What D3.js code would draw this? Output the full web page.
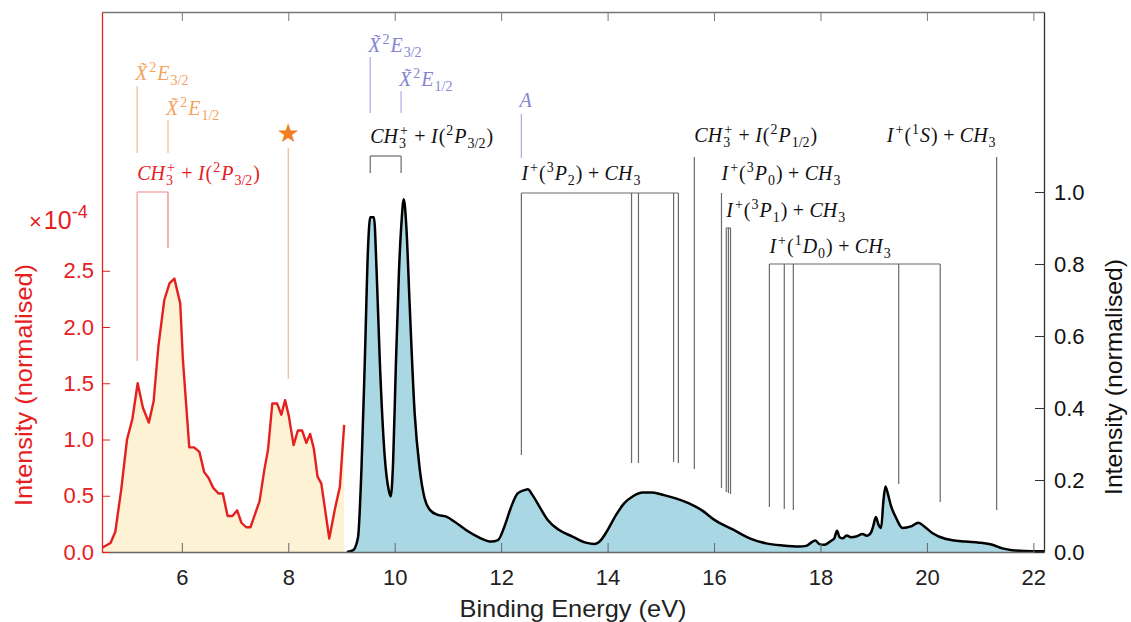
<!DOCTYPE html>
<html><head><meta charset="utf-8">
<script src="https://cdn.jsdelivr.net/npm/d3@7"></script>
<style>
html,body{margin:0;padding:0;background:#fff;}
svg{display:block;}
</style></head>
<body>
<svg id="chart" width="1131" height="622"></svg>
<script>
// ---------- DATA ----------
// Red trace (left axis, x1e-4)
const redEnergy = [4.51,4.66,4.75,4.86,4.97,5.07,5.17,5.27,5.38,5.47,5.56,5.67,5.77,5.86,5.97,6.02,6.14,6.23,6.33,6.42,6.50,6.59,6.69,6.77,6.86,6.95,7.04,7.12,7.21,7.29,7.37,7.46,7.55,7.62,7.70,7.79,7.87,7.94,8.01,8.10,8.18,8.26,8.34,8.41,8.48,8.55,8.62,8.70,8.77,8.88,8.97,9.05];
const redIntensity = [0.04,0.08,0.18,0.55,1.00,1.18,1.50,1.28,1.15,1.34,1.83,2.24,2.39,2.43,2.21,1.71,0.93,0.93,0.89,0.71,0.66,0.57,0.52,0.52,0.32,0.32,0.37,0.26,0.22,0.22,0.33,0.45,0.73,0.91,1.32,1.32,1.22,1.35,1.21,0.95,1.08,1.08,0.97,1.05,0.92,0.67,0.61,0.35,0.12,0.39,0.58,1.13];
// Black trace (right axis)
const blueEnergy = [9.10,9.22,9.31,9.375,9.44,9.50,9.54,9.61,9.66,9.72,9.81,9.89,9.925,9.97,10.02,10.08,10.125,10.17,10.22,10.28,10.375,10.47,10.56,10.66,10.81,10.97,11.125,11.34,11.59,11.81,11.94,12.06,12.19,12.31,12.44,12.50,12.59,12.72,12.875,13.09,13.34,13.59,13.75,13.875,14.0,14.16,14.31,14.47,14.66,14.84,15.06,15.28,15.53,15.78,16.0,16.36,16.67,16.98,17.29,17.6,17.73,17.825,17.9,17.98,18.075,18.2,18.26,18.31,18.36,18.42,18.49,18.575,18.67,18.79,18.87,18.95,18.99,19.04,19.09,19.14,19.18,19.22,19.26,19.325,19.42,19.54,19.7,19.84,19.95,20.1,20.36,20.73,20.98,21.23,21.42,21.6,21.98,22.2];
const blueIntensity = [0,0.005,0.04,0.23,0.54,0.85,0.93,0.93,0.78,0.53,0.27,0.17,0.154,0.25,0.51,0.78,0.91,0.98,0.90,0.69,0.385,0.23,0.15,0.117,0.103,0.098,0.084,0.061,0.040,0.029,0.033,0.07,0.126,0.163,0.172,0.174,0.158,0.126,0.089,0.061,0.043,0.026,0.022,0.033,0.061,0.103,0.135,0.154,0.165,0.165,0.158,0.149,0.135,0.115,0.09,0.062,0.038,0.024,0.018,0.015,0.017,0.026,0.032,0.022,0.020,0.031,0.038,0.059,0.041,0.038,0.046,0.041,0.043,0.050,0.045,0.054,0.071,0.097,0.076,0.067,0.137,0.182,0.165,0.128,0.095,0.067,0.071,0.081,0.071,0.053,0.036,0.029,0.026,0.020,0.010,0.005,0.002,0.002];
// Axis ticks
const xTicks = [6,8,10,12,14,16,18,20,22];
const leftTicks = [0,0.5,1.0,1.5,2.0,2.5];
const rightTicks = [0,0.2,0.4,0.6,0.8,1.0];
// Annotation energies (eV)
const orangeStates = [5.16, 5.74];
const orangeLabels = ["X̃^2E_{3/2}", "X̃^2E_{1/2}"];
const starEnergy = 8.0;
const redBracket = [5.16, 5.74];
const redBracketLabel = "CH_3^+ + I(^2P_{3/2})";
const purpleStates = [9.54, 10.12, 12.38];
const purpleLabels = ["X̃^2E_{3/2}", "X̃^2E_{1/2}", "A"];
const groupLabels = ["CH_3^+ + I(^2P_{3/2})","I^+(^3P_2) + CH_3","CH_3^+ + I(^2P_{1/2})","I^+(^3P_0) + CH_3","I^+(^3P_1) + CH_3","I^+(^1D_0) + CH_3","I^+(^1S) + CH_3"];
const groupEnergies = [[9.54,10.12],[12.38,14.45,14.58,15.24,15.33],[15.63],[16.14],[16.23,16.27,16.31],[17.04,17.32,17.49,19.47,20.25],[21.31]];

// ---------- LAYOUT ----------
const L = {left:102, right:1044, top:12, bottom:552};
const groupLayout = [
  {labelY:143, top:156, bottoms:[173,173]},
  {labelY:180, top:193, bottoms:[455,463,463,462,463]},
  {labelY:142, top:157, bottoms:[469]},
  {labelY:180, top:193, bottoms:[488]},
  {labelY:217, top:228, bottoms:[492,493,494]},
  {labelY:253, top:264, bottoms:[507,509,510,484,502]},
  {labelY:142, top:157, bottoms:[510], anchorEnd:true}
];
const orangeLayout = [{labelY:80, top:86, bottom:153},{labelY:115, top:120, bottom:153}];
const purpleLayout = [{labelY:52, top:57, bottom:113},{labelY:86, top:91, bottom:113},{labelY:107, top:114, bottom:158}];
const MATH_FS = 20;

const C = {
  red:"#e5201f", redLight:"#f29c97", orange:"#f4a35e", orangeLine:"#f7b888", star:"#f27c22",
  purple:"#8585d2", purpleLine:"#a9a9e2", gray:"#6a6a6a", yellow:"#fdf2d4", blue:"#a9d7e4"
};

const svg = d3.select("#chart");
const x = d3.scaleLinear().domain([4.5,22.2]).range([L.left,L.right]);
const yL = d3.scaleLinear().domain([0,4.8]).range([L.bottom,L.top]);
const yR = d3.scaleLinear().domain([0,1.5]).range([L.bottom,L.top]);

svg.append("defs").append("clipPath").attr("id","clip").append("rect")
  .attr("x",L.left).attr("y",L.top).attr("width",L.right-L.left).attr("height",L.bottom-L.top);
const plot = svg.append("g").attr("clip-path","url(#clip)");

const redData = redEnergy.map((e,i)=>[e,redIntensity[i]]);
const blueData = blueEnergy.map((e,i)=>[e,blueIntensity[i]]);

plot.append("path").datum(redData).attr("fill",C.yellow)
  .attr("d", d3.area().x(d=>x(d[0])).y0(yL(0)).y1(d=>yL(d[1])));
plot.append("path").datum(blueData).attr("fill",C.blue)
  .attr("d", d3.area().x(d=>x(d[0])).y0(yR(0)).y1(d=>yR(d[1])).curve(d3.curveMonotoneX));
plot.append("path").datum(redData).attr("fill","none").attr("stroke",C.red).attr("stroke-width",2.4)
  .attr("stroke-linejoin","round").attr("d", d3.line().x(d=>x(d[0])).y(d=>yL(d[1])));
plot.append("path").datum(blueData).attr("fill","none").attr("stroke","#000").attr("stroke-width",2.5)
  .attr("stroke-linejoin","round").attr("d", d3.line().x(d=>x(d[0])).y(d=>yR(d[1])).curve(d3.curveMonotoneX));

// ---------- math label renderer ----------
const SERIF = "'Liberation Serif','DejaVu Serif',serif";
function parseMath(src){
  const toks=[]; let i=0;
  function readArg(){
    if(src[i]==="{"){ const j=src.indexOf("}",i); const s=src.slice(i+1,j); i=j+1; return s; }
    let s=src[i]; i++;
    return s;
  }
  while(i<src.length){
    const c=src[i];
    if(c==="^"||c==="_"){
      i++; const a=readArg();
      let last=toks[toks.length-1];
      const key = c==="^"?"sup":"sub";
      if(!last||last.type!=="script"||last[key]!==undefined){ last={type:"script"}; toks.push(last); }
      last[key]=a;
    } else {
      let last=toks[toks.length-1];
      if(!last||last.type!=="base"){ last={type:"base",text:""}; toks.push(last); }
      last.text+=c; i++;
    }
  }
  return toks;
}
function drawRun(g, text, x0, y0, fs, color){
  let xx=x0;
  const re=/([A-Za-z]\u0303?)+|[ ]+|[^A-Za-z ]+/g; let m;
  while((m=re.exec(text))){
    const s=m[0];
    if(/^ +$/.test(s)){ xx+=fs*0.27*s.length; continue; }
    const it=/[A-Za-z]/.test(s[0]);
    const t=g.append("text").attr("x",xx).attr("y",y0).attr("fill",color)
      .style("font-family",SERIF).style("font-size",fs+"px")
      .style("font-style",it?"italic":"normal").text(s);
    xx+=t.node().getComputedTextLength()+(it?fs*0.05:0);
  }
  return xx-x0;
}
function drawScript(g, tok, x0, y0, fs, color){
  const sfs=fs*0.7;
  const t=g.append("text").attr("fill",color).style("font-family",SERIF).style("font-size",sfs+"px");
  let w=0;
  if(tok.sub!==undefined){
    const s=t.append("tspan").attr("x",x0).attr("y",y0+fs*0.25).text(tok.sub);
    w=Math.max(w,s.node().getComputedTextLength());
  }
  if(tok.sup!==undefined){
    const s=t.append("tspan").attr("x",x0+1).attr("y",y0-fs*0.42).text(tok.sup);
    w=Math.max(w,s.node().getComputedTextLength()+1);
  }
  return w+1;
}
function mathLabel(g, x0, y0, src, color, fs, anchorEnd){
  fs=fs||MATH_FS;
  const lg=g.append("g");
  let xx=x0;
  parseMath(src).forEach(tok=>{
    if(tok.type==="base") xx+=drawRun(lg,tok.text,xx,y0,fs,color);
    else xx+=drawScript(lg,tok,xx,y0,fs,color);
  });
  if(anchorEnd){ lg.attr("transform",`translate(${-(xx-x0)},0)`); }
}
function vline(g,xp,y1,y2,color,w){ g.append("line").attr("x1",xp).attr("x2",xp).attr("y1",y1).attr("y2",y2).attr("stroke",color).attr("stroke-width",w||1.2); }
function hline(g,x1,x2,yp,color,w){ g.append("line").attr("x1",x1).attr("x2",x2).attr("y1",yp).attr("y2",yp).attr("stroke",color).attr("stroke-width",w||1.2); }

const ann = svg.append("g");
// orange
orangeStates.forEach((e,i)=>{
  const lo=orangeLayout[i];
  vline(ann,x(e),lo.top,lo.bottom,C.orangeLine);
  mathLabel(ann,x(e)-2,lo.labelY,orangeLabels[i],C.orange);
});
// red bracket
hline(ann,x(redBracket[0]),x(redBracket[1]),192,C.redLight);
vline(ann,x(redBracket[0]),192,361,C.redLight);
vline(ann,x(redBracket[1]),192,248,"#ef7e78");
mathLabel(ann,x(redBracket[0]),180,redBracketLabel,C.red);
// star
vline(ann,x(starEnergy),148,379,C.orangeLine);
ann.append("text").attr("x",x(starEnergy)).attr("y",142).attr("text-anchor","middle")
  .attr("fill",C.star).style("font-family","'DejaVu Sans'").style("font-size","26px").text("★");
// purple
purpleStates.forEach((e,i)=>{
  const lo=purpleLayout[i];
  vline(ann,x(e),lo.top,lo.bottom,C.purpleLine);
  mathLabel(ann,x(e)-2,lo.labelY,purpleLabels[i],C.purple);
});
// black groups
groupEnergies.forEach((es,gi)=>{
  const lo=groupLayout[gi];
  if(es.length>1) hline(ann,x(es[0]),x(es[es.length-1]),lo.top,C.gray);
  es.forEach((e,k)=>vline(ann,x(e),lo.top,lo.bottoms[k],C.gray));
  mathLabel(ann,x(es[0]),lo.labelY,groupLabels[gi],"#111",MATH_FS,lo.anchorEnd);
});

// ---------- axes ----------
const font="'Liberation Sans',Arial,Helvetica,sans-serif";
function styleAxis(g,color,lineColor,fs){
  g.selectAll("text").style("font-family",font).style("font-size",(fs||21)+"px").attr("fill",color);
  g.selectAll(".tick line").attr("stroke",lineColor);
  g.select(".domain").attr("stroke",lineColor).attr("stroke-width",1.3);
}
const gb = svg.append("g").attr("transform",`translate(0,${L.bottom})`)
  .call(d3.axisBottom(x).tickValues(xTicks).tickSize(-9).tickSizeOuter(0).tickPadding(17).tickFormat(d3.format("d")));
styleAxis(gb,"#222","#666",22);
const gt = svg.append("g").attr("transform",`translate(0,${L.top})`)
  .call(d3.axisTop(x).tickValues(xTicks).tickSize(-9).tickSizeOuter(0).tickFormat(""));
styleAxis(gt,"#222","#777");
const gl = svg.append("g").attr("transform",`translate(${L.left},0)`)
  .call(d3.axisLeft(yL).tickValues(leftTicks).tickSize(-8).tickSizeOuter(0).tickPadding(8).tickFormat(d3.format(".1f")));
styleAxis(gl,C.red,C.red,22);
const gr = svg.append("g").attr("transform",`translate(${L.right},0)`)
  .call(d3.axisRight(yR).tickValues(rightTicks).tickSize(-9).tickSizeOuter(0).tickPadding(10).tickFormat(d3.format(".1f")));
styleAxis(gr,"#111","#333",22);

svg.append("text").attr("x",(L.left+L.right)/2 + 0).attr("y",617).attr("text-anchor","middle")
  .attr("textLength",227).attr("lengthAdjust","spacingAndGlyphs")
  .style("font-family",font).style("font-size","24px").attr("fill","#222").text("Binding Energy (eV)");
svg.append("text").attr("transform","translate(32,385) rotate(-90)").attr("text-anchor","middle")
  .attr("textLength",242).attr("lengthAdjust","spacingAndGlyphs")
  .style("font-family",font).style("font-size","24px").attr("fill",C.red).text("Intensity (normalised)");
svg.append("text").attr("transform","translate(1122,377) rotate(-90)").attr("text-anchor","middle")
  .attr("textLength",236).attr("lengthAdjust","spacingAndGlyphs")
  .style("font-family",font).style("font-size","24px").attr("fill","#111").text("Intensity (normalised)");
const mult = svg.append("text").attr("x",29).attr("y",229).attr("fill",C.red).style("font-family",font).style("font-size","25px");
mult.append("tspan").style("font-size","22px").text("×");
mult.append("tspan").attr("dx",2).text("10");
mult.append("tspan").attr("dy",-11).style("font-size","18px").text("-4");
</script>
</body></html>
